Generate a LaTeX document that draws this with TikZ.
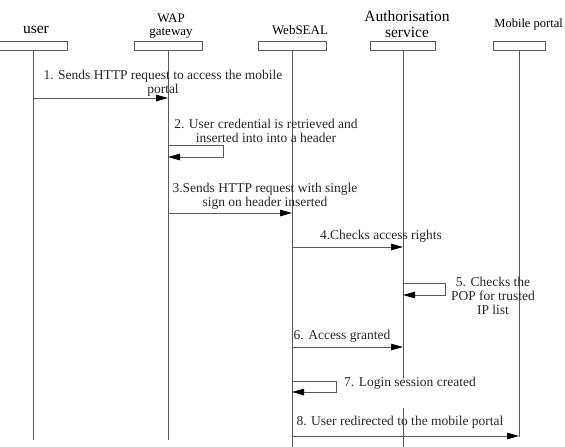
\documentclass[tikz,border=0pt]{standalone}
\usepackage{fontspec}
\setmainfont{Liberation Serif}
\usetikzlibrary{arrows.meta}

\begin{document}
\begin{tikzpicture}[
			     x=1pt, y=-1pt,
			     >={Triangle[length=12pt,width=6.5pt,color=black]},
			     actor/.style={draw=black!65, line width=1pt, minimum height=9pt, inner sep=0pt},
			     head/.style={font=\fontsize{13}{13}\selectfont, align=center, inner sep=0pt},
			     big head/.style={font=\fontsize{15.5}{16}\selectfont, align=center, inner sep=0pt},
			     life/.style={draw=black!65, line width=1pt},
			     msg/.style={draw=black!65, line width=1pt, ->},
			     descr/.style={font=\fontsize{13.5}{14}\selectfont, align=center, inner sep=1pt, text=black!85}
			     ]
\useasboundingbox (0,0) rectangle (565,447);

% participants
\node[actor, minimum width=68pt] (user) at (33,45.5) {};
\node[actor, minimum width=68pt] (wap) at (168,45.5) {};
\node[actor, minimum width=68pt] (seal) at (292,45.5) {};
\node[actor, minimum width=65pt] (auth) at (403,45.5) {};
\node[actor, minimum width=52pt] (portal) at (519,45.5) {};

\node[big head] (user-t) at (36,30) {user};
\node[head] (wap-t) at (171,26) {WAP\\gateway};
\node[head] (seal-t) at (300,30) {WebSEAL};
\node[big head] (auth-t) at (407,24) {Authorisation\\service};
\node[head, anchor=east, font=\fontsize{12.5}{13}\selectfont] (portal-t) at (563,24) {Mobile portal};

% lifelines
\coordinate (user-end) at (33,440);
\coordinate (wap-end) at (168,440);
\coordinate (seal-end) at (292,447);
\coordinate (auth-end) at (403,447);
\coordinate (portal-end) at (519,437);
\foreach \p in {user,wap,seal,auth,portal}
  \draw[life] (\p.south) -- (\p-end);

% messages
\draw[msg] (user |- 0,98) -- (wap |- 0,98);
\node[descr] (m1) at (163,83) {1. Sends HTTP request to access the mobile\\portal};

\draw[msg] (wap |- 0,145) -- ++(55,0) -- ++(0,12) -- (wap |- 0,157);
\node[descr] (m2) at (266,131) {2. User credential is retrieved and\\inserted into into a header};

\draw[msg] (wap |- 0,213) -- (seal |- 0,213);
\node[descr] (m3) at (265,196) {3.Sends HTTP request with single\\sign on header inserted};

\draw[msg] (seal |- 0,247) -- (auth |- 0,247);
\node[descr] (m4) at (381,236) {4.Checks access rights};

\draw[msg] (auth |- 0,283) -- ++(42,0) -- ++(0,12) -- (auth |- 0,295);
\node[descr] (m5) at (493,296) {5. Checks the\\POP for trusted\\IP list};

\draw[msg] (seal |- 0,347) -- (auth |- 0,347);
\node[descr] (m6) at (342,336) {6. Access granted};

\draw[msg] (seal |- 0,381) -- ++(44,0) -- ++(0,11) -- (seal |- 0,392);
\node[descr, anchor=north west, fill=white, text height=7pt, text depth=21pt] (m7) at (343,378) {7. Login session created};

\draw[msg] (seal |- 0,436) -- (portal |- 0,436);
\node[descr] (m8) at (400,422) {8. User redirected to the mobile portal};
\end{tikzpicture}
\end{document}
